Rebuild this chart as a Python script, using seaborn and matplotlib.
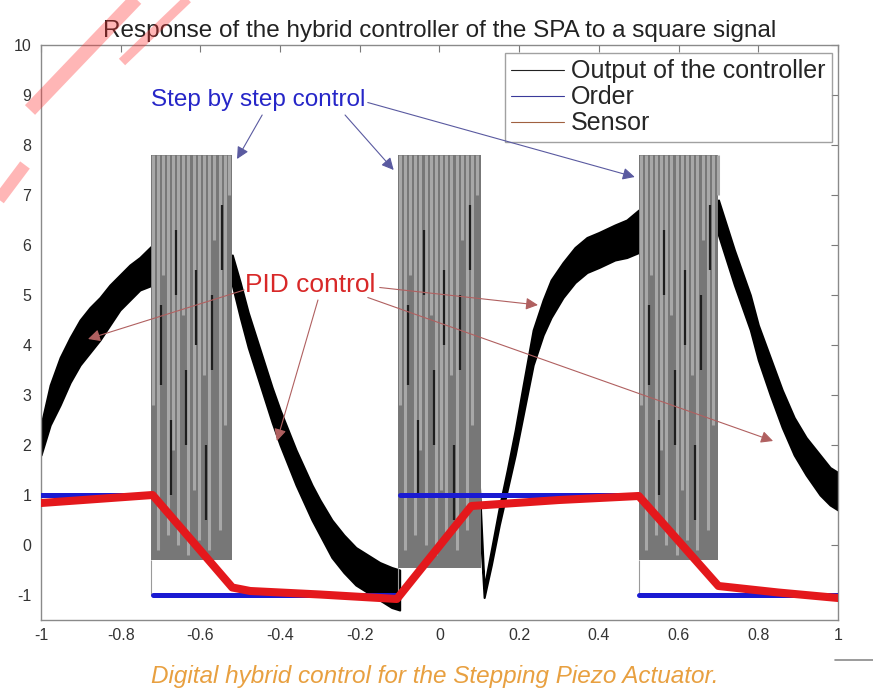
import numpy as np
import pandas as pd
import matplotlib
matplotlib.use("Agg")
import matplotlib.pyplot as plt
from matplotlib.lines import Line2D
import seaborn as sns

# order (square signal), one row per level
order_x0 = [-1.0, -0.72, -0.1, 0.5]
order_x1 = [-0.72, -0.1, 0.5, 1.0]
order_lvl = [1.0, -1.0, 1.0, -1.0]

# sensor response
sensor_x = [-1.0, -0.72, -0.52, -0.475, -0.3, -0.107, 0.08, 0.3, 0.5, 0.7, 0.85, 1.0]
sensor_y = [0.84, 1.0, -0.85, -0.92, -0.99, -1.08, 0.78, 0.9, 0.98, -0.82, -0.95, -1.06]

# controller output during PID phases (noisy band: lower / upper envelope)
pid1_x = [-1.0, -0.977, -0.952, -0.927, -0.902, -0.877, -0.852, -0.827, -0.802, -0.777, -0.752, -0.72]
pid1_lo = [1.8, 2.4, 2.8, 3.25, 3.6, 3.85, 4.1, 4.4, 4.7, 4.9, 5.1, 5.2]
pid1_hi = [2.4, 3.2, 3.75, 4.15, 4.5, 4.75, 4.95, 5.2, 5.4, 5.6, 5.75, 6.0]

pid2_x = [-0.52, -0.50, -0.48, -0.46, -0.44, -0.42, -0.40, -0.38, -0.36, -0.34, -0.32,
          -0.30, -0.27, -0.24, -0.21, -0.18, -0.15, -0.12, -0.10]
pid2_lo = [5.2, 4.55, 3.95, 3.45, 2.95, 2.45, 2.0, 1.6, 1.2, 0.85, 0.5,
           0.2, -0.25, -0.55, -0.8, -0.95, -1.1, -1.25, -1.3]
pid2_hi = [5.8, 5.25, 4.65, 4.15, 3.65, 3.15, 2.7, 2.3, 1.9, 1.55, 1.2,
           0.9, 0.5, 0.2, -0.05, -0.2, -0.35, -0.45, -0.5]

pid3_x = [0.10, 0.112, 0.13, 0.15, 0.17, 0.19, 0.21, 0.235, 0.26, 0.28, 0.31, 0.34,
          0.37, 0.40, 0.44, 0.47, 0.50]
pid3_lo = [0.6, -1.05, -0.4, 0.4, 1.1, 1.8, 2.6, 3.6, 4.2, 4.55, 4.95, 5.25,
           5.45, 5.55, 5.7, 5.75, 5.85]
pid3_hi = [1.2, -0.85, -0.1, 0.75, 1.5, 2.3, 3.2, 4.3, 4.9, 5.3, 5.65, 5.95,
           6.15, 6.25, 6.4, 6.5, 6.7]

pid4_x = [0.70, 0.72, 0.74, 0.76, 0.78, 0.80, 0.83, 0.86, 0.89, 0.92, 0.955, 0.98, 1.0]
pid4_lo = [6.2, 5.7, 5.2, 4.75, 4.3, 3.7, 3.0, 2.35, 1.8, 1.4, 1.0, 0.8, 0.7]
pid4_hi = [6.9, 6.4, 5.9, 5.45, 5.0, 4.4, 3.75, 3.1, 2.55, 2.15, 1.8, 1.55, 1.45]

# controller output during step-by-step phases (switching between levels)
step_start = [-0.725, -0.104, 0.5]
step_end = [-0.52, 0.104, 0.7]
step_low = [-0.3, -0.45, -0.3]
step_high = 7.8
stripe_dx = [0.006, 0.018, 0.03, 0.043, 0.056, 0.069, 0.082, 0.095, 0.108,
             0.121, 0.134, 0.147, 0.16, 0.173, 0.186, 0.198]
stripe_lo = [2.8, -0.1, 5.4, 0.2, 1.9, 0.0, 4.6, -0.2, 1.1, 0.1, 3.4, -0.1,
             6.1, 0.3, 2.4, 7.0]
dark_dx = [0.025, 0.05, 0.064, 0.09, 0.115, 0.14, 0.155, 0.18]
dark_lo = [3.2, 1.0, 5.0, 2.0, 4.0, 0.5, 3.5, 5.5]
dark_hi = [4.8, 2.5, 6.3, 3.5, 5.5, 2.0, 5.0, 6.8]

title = "Response of the hybrid controller of the SPA to a square signal"
caption = "Digital hybrid control for the Stepping Piezo Actuator."
legend_labels = ["Output of the controller", "Order", "Sensor"]
x_ticks = [-1, -0.8, -0.6, -0.4, -0.2, 0, 0.2, 0.4, 0.6, 0.8, 1]
x_tick_labels = ["-1", "-0.8", "-0.6", "-0.4", "-0.2", "0", "0.2", "0.4", "0.6", "0.8", "1"]
y_ticks = [-1, 0, 1, 2, 3, 4, 5, 6, 7, 8, 9, 10]

sns.set_style("white")
plt.rcParams["font.family"] = ["Liberation Sans", "DejaVu Sans"]
plt.rcParams["axes.unicode_minus"] = False

fig = plt.figure(figsize=(8.73, 6.93), dpi=100)
ax = fig.add_axes([41 / 873, 1 - 620 / 693, 797 / 873, 575 / 693])

# PID phases, thick noisy black band
for bx, blo, bhi in [(pid1_x, pid1_lo, pid1_hi), (pid2_x, pid2_lo, pid2_hi),
                     (pid3_x, pid3_lo, pid3_hi), (pid4_x, pid4_lo, pid4_hi)]:
    ax.fill_between(bx, blo, bhi, color="black", lw=1.5, edgecolor="black", zorder=2)

# step by step phases
for s, e, lo in zip(step_start, step_end, step_low):
    ax.fill_between([s, e], [lo, lo], [step_high, step_high], color="#777777", lw=0, zorder=3)
    xs = [s + d for d in stripe_dx]
    ax.vlines(xs, stripe_lo, step_high, color="#a8a8a8", lw=2.2, zorder=3)
    ax.vlines([s + d for d in dark_dx], dark_lo, dark_hi, color="#1e1e1e", lw=1.6, zorder=3)
    ax.vlines([s], -1, lo, color="#9a9a9a", lw=0.8, zorder=3)

order_df = pd.DataFrame({"x": order_x0 + order_x1,
                         "y": order_lvl + order_lvl,
                         "seg": list(range(4)) * 2})
sns.lineplot(data=order_df, x="x", y="y", units="seg", estimator=None, color="#1a1ad2",
             lw=3.6, ax=ax, zorder=4)
sensor_df = pd.DataFrame({"x": sensor_x, "y": sensor_y})
sns.lineplot(data=sensor_df, x="x", y="y", color="#e4181c", lw=5.8, sort=False,
             estimator=None, ax=ax, zorder=5)

ax.set_xlim(-1, 1)
ax.set_ylim(-1.5, 10)
ax.set_xticks(x_ticks)
ax.set_xticklabels(x_tick_labels)
ax.set_yticks(y_ticks)
ax.set_xlabel("")
ax.set_ylabel("")
ax.tick_params(direction="in", length=5, color="#7a7a7a", labelsize=11.5,
               labelcolor="#333333", top=True, right=True, pad=6)
ax.tick_params(axis="y", pad=7)
for sp in ax.spines.values():
    sp.set_color("#8a8a8a")
    sp.set_linewidth(1)

ax.set_title(title, fontsize=17.5, color="#222222", pad=6)

handles = [Line2D([], [], color="#222222", lw=0.8),
           Line2D([], [], color="#3a3a9a", lw=0.8),
           Line2D([], [], color="#a06040", lw=0.8)]
leg = ax.legend(handles, legend_labels, loc="upper right", fontsize=18, frameon=True,
                fancybox=False, edgecolor="#8a8a8a", handlelength=2.1, handletextpad=0.3,
                labelspacing=0.08, borderpad=0.25, borderaxespad=0,
                bbox_to_anchor=(0.9925, 0.986))
leg.get_frame().set_linewidth(1)
leg.set_zorder(10)

# annotations
blue = "#2626c8"
ax.text(-0.455, 8.9, "Step by step control", color=blue, fontsize=17.5, ha="center",
        va="center", zorder=11)
for (xs, ys, xt, yt) in [(-0.445, 8.6, -0.508, 7.72), (-0.237, 8.6, -0.115, 7.5),
                         (-0.18, 8.85, 0.49, 7.36)]:
    ax.annotate("", xy=(xt, yt), xytext=(xs, ys), zorder=11,
                arrowprops=dict(arrowstyle="-|>", color="#5a5aa0", lw=0.8,
                                mutation_scale=18, shrinkA=0, shrinkB=0))
red = "#d82828"
ax.text(-0.325, 5.2, "PID control", color=red, fontsize=19, ha="center", va="center", zorder=11)
for (xs, ys, xt, yt) in [(-0.49, 5.1, -0.882, 4.12), (-0.305, 4.9, -0.408, 2.08),
                         (-0.15, 5.15, 0.247, 4.8), (-0.18, 4.95, 0.837, 2.08)]:
    ax.annotate("", xy=(xt, yt), xytext=(xs, ys), zorder=11,
                arrowprops=dict(arrowstyle="-|>", color="#b06060", lw=0.8,
                                mutation_scale=18, shrinkA=0, shrinkB=0))

fig.text(435 / 873, 1 - 677 / 693, caption, color="#e8a040", fontsize=17.5, style="italic",
         ha="center", va="center")
fig.add_artist(Line2D([835 / 873, 1.0], [1 - 660 / 693, 1 - 660 / 693], color="#8a8a8a", lw=1.2))

# watermark strokes
for (x0, y0, x1, y1, w) in [(140, -5, 30, 110, 14), (192, -5, 122, 62, 9), (25, 165, -5, 205, 12)]:
    fig.add_artist(Line2D([x0 / 873, x1 / 873], [1 - y0 / 693, 1 - y1 / 693],
                          color="#ff3030", alpha=0.35, lw=w * 0.72, solid_capstyle="butt"))

fig.savefig("out.png", dpi=100)
